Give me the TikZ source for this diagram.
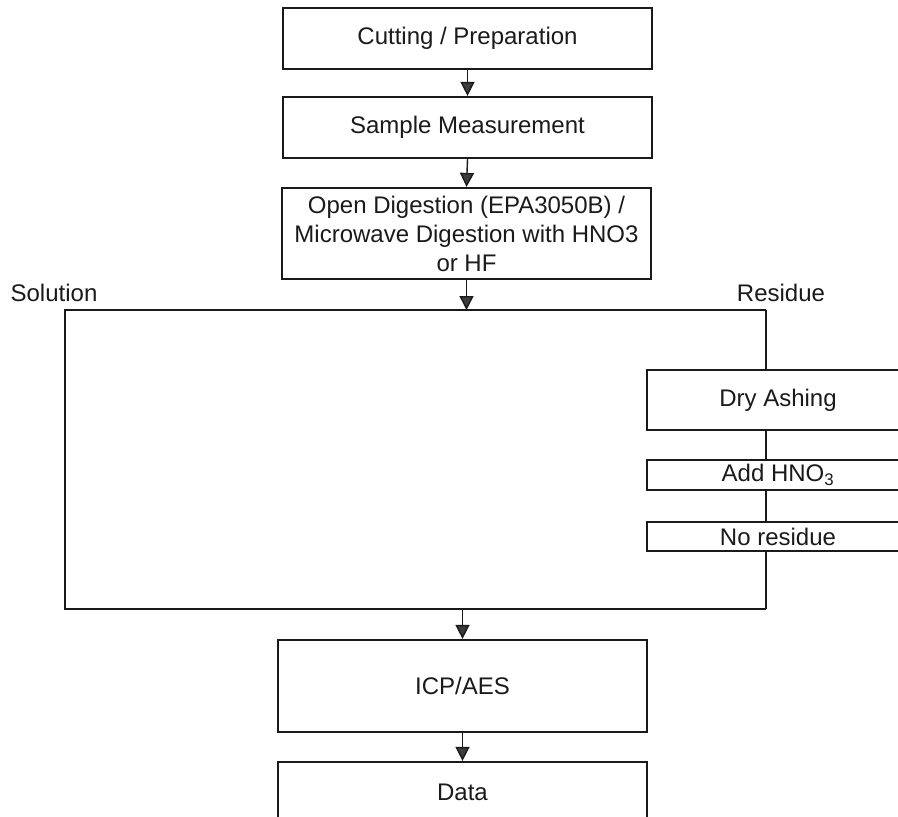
\documentclass[tikz,border=0pt]{standalone}
\usepackage{fontspec}
\setmainfont{Liberation Sans}
\usetikzlibrary{arrows.meta,positioning}
\definecolor{ink}{HTML}{1A1A1A}
\definecolor{tipfill}{HTML}{3C3C3C}
\tikzset{
  box/.style={draw=ink, line width=2.2pt, minimum width=369pt, minimum height=61pt, inner sep=2pt, text=ink, align=center, font=\fontsize{24}{29}\selectfont},
  sidebox/.style={box, minimum width=262pt, line width=1.8pt},
  flow/.style={draw=ink, line width=1.4pt, -{Triangle[width=14pt, length=14pt, fill=tipfill]}},
  wire/.style={draw=ink, line width=1.6pt, line join=miter},
  lab/.style={text=ink, font=\fontsize{24}{29}\selectfont},
}
\begin{document}
\begin{tikzpicture}[x=1pt, y=-1pt]
\clip (0,0) rectangle (898,817);
% main column
\node[box] (cut) at (467.5,38.5) {Cutting / Preparation};
\node[box] (meas) at (467.5,127.5) {Sample Measurement};
\node[box, minimum height=91pt] (dig) at (466.5,233.5) {Open Digestion (EPA3050B) /\\Microwave Digestion with HNO3\\or HF};

% split frame
\coordinate (sL) at (65,310);
\coordinate (sR) at (766,310);
\coordinate (eL) at (65,609);
\coordinate (eR) at (766,609);
\node[lab] (sol) at (54,293) {Solution};
\node[lab] (res) at (781,293) {Residue};

% residue branch
\node[sidebox, minimum height=60pt] (ash) at (778,400) {Dry Ashing};
\node[sidebox, minimum height=30pt] (hno) at (778,475) {Add HNO\textsubscript{3}};
\node[sidebox, minimum height=29pt] (nores) at (778,536.5) {No residue};

% analysis
\node[box, minimum height=92pt] (icp) at (462.5,686) {ICP/AES};
\node[box, minimum height=60pt] (data) at (462.5,792) {Data};

\draw[flow] (cut.south) -- (meas.north);
\draw[flow] (meas.south) -- (dig.north);
\draw[flow] (dig.south) -- (dig.south |- sL);
\draw[wire] (sR) -- (sL) -- (eL) -- (eR);
\draw[wire] (sR) -- (sR |- ash.north);
\draw[wire] (ash.south -| sR) -- (hno.north -| sR);
\draw[wire] (hno.south -| sR) -- (nores.north -| sR);
\draw[wire] (nores.south -| sR) -- (eR);
\draw[flow] (icp.north |- eL) -- (icp.north);
\draw[flow] (icp.south) -- (data.north);
\end{tikzpicture}
\end{document}
